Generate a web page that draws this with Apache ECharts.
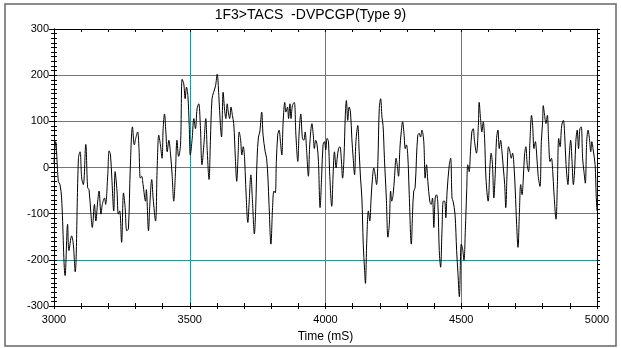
<!DOCTYPE html>
<html><head><meta charset="utf-8">
<script src="https://cdn.jsdelivr.net/npm/echarts@6/dist/echarts.min.js"></script>
<style>html,body{margin:0;padding:0;background:#fff}#c{width:621px;height:348px}</style>
</head><body><div id="c"></div>
<script>
var titleText = "1F3>TACS  -DVPCGP(Type 9)";
var xName = "Time (mS)";
var times = [3000,3006,3016,3022,3028,3041,3050,3055,3065,3071,3078,3090,3096,3102,3108,3117,3124,3129,3136,3141,3149,3154,3161,3166,3173,3178,3186,3190,3198,3203,3208,3213,3220,3225,3232,3237,3242,3249,3256,3262,3268,3274,3281,3289,3296,3301,3308,3313,3318,3323,3328,
3337,3340,3348,3353,3360,3365,3374,3380,3386,3392,3398,3402,3407,3412,3417,3423,3429,3435,3441,3447,3453,3459,3466,3472,3478,3483,3488,3493,3498,3502,3509,3515,3521,3527,3533,3539,3545,3552,3559,3564,3571,3576,3582,3588,3595,3601,3607,3613,3617,3623,3628,3633,3638,3642,3647,3652,3657,3662,3668,3673,3678,
3682,3687,3692,3697,3702,3706,3714,3719,3725,3731,3738,3743,3748,3753,3758,3765,3770,3778,3783,3788,3792,3799,3805,3810,3815,3819,3824,3829,3834,3839,3844,3850,3854,3860,3864,3869,3873,3878,3885,3891,3898,3903,3909,3915,3920,3925,3930,3937,3942,3950,3955,3959,3964,3969,3974,3980,3986,3991,3996,4001,4006,4011,
4015,4023,4028,4033,4039,4043,4048,4053,4058,4063,4068,4073,4077,4082,4087,4092,4097,4102,4107,4112,4119,4124,4129,4134,4139,4144,4147,4152,4158,4163,4168,4173,4178,4183,4188,4193,4198,4203,4208,4212,4217,4224,4230,4235,4240,4244,4249,4254,4260,4264,4269,4274,4279,4284,4289,4294,4298,4303,4308,4316,4321,4325,4330,4335,4340,4345,4350,4355,
4362,4367,4372,4377,4384,4389,4394,4399,4404,4409,4414,4419,4424,4429,4434,4439,4443,4448,4456,4461,4466,4470,4477,4483,4488,4493,4500,4505,4510,4515,4520,4524,4529,4534,4539,4544,4549,4556,4563,4566,4571,4576,4581,4586,4591,4599,4606,4610,4615,4620,4625,4630,4635,4640,4645,4650,4655,4660,4664,4669,4674,4679,4684,4689,4694,
4699,4704,4709,4714,4719,4724,4728,4733,4738,4743,4748,4753,4759,4763,4768,4773,4778,4783,4790,4795,4800,4802,4807,4812,4817,4822,4827,4832,4837,4841,4849,4854,4859,4864,4870,4876,4881,4886,4893,4898,4903,4908,4913,4918,4922,4927,4932,4937,4942,4947,4952,4957,4962,4967,4972,4977,4981,4986,4993,4997,5000];
var values = [10,56,-30,-37,-66,-234,-123,-180,-148,-166,-226,20,34,-23,-37,50,-44,-48,-101,-130,-80,-116,-73,-51,-101,-80,-66,-80,-16,36,27,-23,-94,-9,-51,-101,-94,-162,-55,-87,-137,-133,-1,88,49,63,77,41,-23,-19,-37,
-73,-48,-137,-80,-26,-66,-116,-1,70,49,20,84,116,77,34,59,31,-16,-73,-16,59,24,49,191,181,149,174,156,91,27,63,106,84,127,138,91,6,49,106,41,-26,56,149,163,177,202,156,91,66,163,127,106,138,120,106,131,113,95,20,-30,25,
77,63,27,45,20,-37,-119,-73,-16,-73,-144,-87,20,66,77,120,70,34,20,-23,-80,-166,-87,-51,-55,13,70,81,56,27,99,141,120,131,106,138,106,134,141,70,13,77,116,63,59,77,41,-19,49,95,70,41,59,49,13,-87,-16,49,56,38,63,56,
-9,-84,-16,34,-1,20,41,45,20,-23,20,113,145,102,131,120,63,20,-16,56,91,34,-23,-66,-166,-223,-251,-159,-94,-116,-66,-23,-1,-16,-37,13,127,149,109,91,20,-66,-151,-123,-51,-73,-59,-23,20,6,-19,41,77,99,74,41,49,27,-51,-166,-94,-51,-44,20,70,74,66,81,
56,-23,6,-30,-73,-80,-66,-130,-66,-59,-80,-180,-216,-137,-73,-73,-109,-51,6,20,-66,-73,-101,-180,-230,-280,-166,-176,-201,-137,-51,6,-9,34,77,84,56,31,91,141,106,77,99,63,-23,-73,6,31,6,-66,-16,63,81,41,59,34,-1,-37,-87,-9,45,35,20,31,6,
-51,-123,-173,-101,-37,-59,-30,27,45,6,-9,56,113,91,41,56,27,-16,-41,56,102,134,113,95,113,56,13,20,-9,-51,-112,-37,63,45,91,102,70,6,-37,27,59,13,-37,-1,56,81,41,84,88,20,-9,-34,56,81,63,34,56,38,6,-60,-94];

var xMin = 3000, xMax = 5000, xStep = 500;
var yMin = -300, yMax = 300, yStep = 100;

var data = times.map(function(t, i){ return [t, values[i]]; });
var FONT = "'Liberation Sans', Arial, sans-serif";
var TEAL = '#2b9393';
var chart = echarts.init(document.getElementById('c'), null, {renderer: 'canvas'});

function xa(pos, opts) {
  return Object.assign({
    type: 'value', min: xMin, max: xMax, interval: xStep, position: pos,
    axisLine: {show: true, onZero: false, lineStyle: {color: '#000', width: 1}},
    axisTick: {show: true, length: 3, inside: false, lineStyle: {color: '#000'}},
    minorTick: {show: true, splitNumber: 5, length: 3, lineStyle: {color: '#000'}},
    axisLabel: {show: false},
    splitLine: {show: false}
  }, opts);
}
function ya(pos, opts) {
  return Object.assign({
    type: 'value', min: yMin, max: yMax, interval: yStep, position: pos,
    axisLine: {show: true, onZero: false, lineStyle: {color: '#000', width: 1}},
    axisTick: {show: true, length: 3, inside: false, lineStyle: {color: '#000'}},
    minorTick: {show: true, splitNumber: 10, length: 3, lineStyle: {color: '#000'}},
    axisLabel: {show: false},
    splitLine: {show: false}
  }, opts);
}

chart.setOption({
  animation: false,
  backgroundColor: '#fff',
  title: {
    text: titleText, left: 'center', top: 3,
    textStyle: {fontFamily: FONT, fontSize: 14, fontWeight: 'normal', color: '#000'}
  },
  graphic: [{
    type: 'rect', shape: {x: 5, y: 4, width: 611, height: 342},
    style: {fill: null, stroke: '#666', lineWidth: 1.5}, silent: true, z: 100
  }],
  grid: {left: 54, right: 24, top: 29, bottom: 38},
  xAxis: [
    xa('bottom', {
      name: xName, nameLocation: 'middle', nameGap: 25,
      nameTextStyle: {fontFamily: FONT, fontSize: 12, color: '#000'},
      axisLabel: {show: true, fontFamily: FONT, fontSize: 11, color: '#000', margin: 8,
        formatter: function(v){ return String(v); }},
      splitLine: {show: true, lineStyle: {color: TEAL, width: 1}}
    }),
    xa('bottom', {axisTick: {show: true, length: 3, inside: true, lineStyle: {color: '#000'}}}),
    xa('top', {axisTick: {show: true, length: 3, inside: true, lineStyle: {color: '#000'}}})
  ],
  yAxis: [
    ya('left', {
      axisTick: {show: true, length: 5, inside: false, lineStyle: {color: '#000'}},
      axisLabel: {show: true, fontFamily: FONT, fontSize: 11, color: '#000', margin: 5,
        formatter: function(v){ return String(v); }},
      splitLine: {show: true, lineStyle: {color: TEAL, width: 1}}
    }),
    ya('left', {axisTick: {show: true, length: 3, inside: true, lineStyle: {color: '#000'}}}),
    ya('right', {axisTick: {show: true, length: 3, inside: false, lineStyle: {color: '#000'}}})
  ],
  series: [{
    type: 'line', data: data, xAxisIndex: 0, yAxisIndex: 0,
    showSymbol: false, symbol: 'none', smooth: 0.35,
    lineStyle: {color: '#000', width: 1}, z: 5
  }]
});
</script>
</body></html>
